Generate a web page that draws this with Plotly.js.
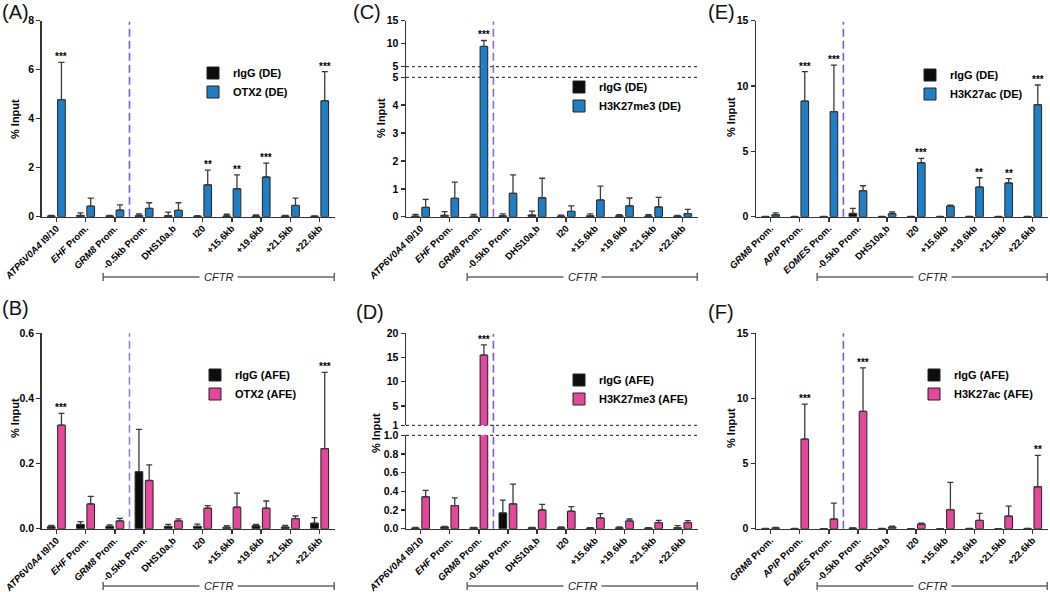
<!DOCTYPE html>
<html>
<head>
<meta charset="utf-8">
<script src="https://cdn.plot.ly/plotly-3.0.1.min.js"></script>
<style>html,body{margin:0;padding:0;background:#fff;}#chart{width:1050px;height:592px;}</style>
</head>
<body>
<div id="chart"></div>
<script>
// ---------------- DATA ----------------
const sitesAD = ['ATP6V0A4 I9/10','EHF Prom.','GRM8 Prom.','-0.5kb Prom.','DHS10a,b','I20','+15.6kb','+19.6kb','+21.5kb','+22.6kb'];
const ticksAD = ['<i>ATP6V0A4</i> I9/10','<i>EHF</i> Prom.','<i>GRM8</i> Prom.','-0.5kb Prom.','DHS10a,b','I20','+15.6kb','+19.6kb','+21.5kb','+22.6kb'];
const sitesEF = ['GRM8 Prom.','APIP Prom.','EOMES Prom.','-0.5kb Prom.','DHS10a,b','I20','+15.6kb','+19.6kb','+21.5kb','+22.6kb'];
const ticksEF = ['<i>GRM8</i> Prom.','<i>APIP</i> Prom.','<i>EOMES</i> Prom.','-0.5kb Prom.','DHS10a,b','I20','+15.6kb','+19.6kb','+21.5kb','+22.6kb'];

// (A) OTX2 in DE
const iggA    = [0.03, 0.05, 0.03, 0.04, 0.04, 0.02, 0.03, 0.03, 0.03, 0.02];
const iggAerr = [0.02, 0.11, 0.02, 0.07, 0.15, 0.02, 0.07, 0.04, 0.02, 0.01];
const otxA    = [4.78, 0.43, 0.27, 0.34, 0.26, 1.30, 1.14, 1.62, 0.46, 4.73];
const otxAerr = [1.52, 0.33, 0.21, 0.23, 0.31, 0.60, 0.57, 0.57, 0.30, 1.19];
const sigA    = ['***','','','','','**','**','***','','***'];

// (B) OTX2 in AFE
const iggB    = [0.006, 0.013, 0.007, 0.175, 0.007, 0.007, 0.004, 0.009, 0.005, 0.017];
const iggBerr = [0.004, 0.009, 0.005, 0.130, 0.006, 0.007, 0.005, 0.004, 0.005, 0.017];
const otxB    = [0.318, 0.076, 0.024, 0.148, 0.024, 0.063, 0.066, 0.063, 0.031, 0.246];
const otxBerr = [0.036, 0.023, 0.008, 0.048, 0.006, 0.008, 0.043, 0.022, 0.008, 0.234];
const sigB    = ['***','','','','','','','','','***'];

// (C) H3K27me3 in DE
const iggC    = [0.02, 0.05, 0.02, 0.03, 0.06, 0.02, 0.03, 0.03, 0.02, 0.02];
const iggCerr = [0.06, 0.13, 0.06, 0.07, 0.14, 0.04, 0.07, 0.04, 0.05, 0.03];
const me3C    = [0.335, 0.66, 9.4, 0.84, 0.68, 0.19, 0.60, 0.39, 0.35, 0.11];
const me3Cerr = [0.285, 0.58, 1.3, 0.66, 0.70, 0.20, 0.50, 0.28, 0.34, 0.15];
const sigC    = ['','','***','','','','','','',''];

// (D) H3K27me3 in AFE
const iggD    = [0.007, 0.018, 0.010, 0.169, 0.010, 0.010, 0.007, 0.010, 0.007, 0.010];
const iggDerr = [0.007, 0.007, 0.004, 0.137, 0.004, 0.008, 0.003, 0.008, 0.003, 0.022];
const me3D    = [0.342, 0.248, 15.5, 0.266, 0.200, 0.187, 0.115, 0.083, 0.065, 0.065];
const me3Derr = [0.068, 0.082, 2.1, 0.212, 0.060, 0.050, 0.047, 0.021, 0.025, 0.021];
const sigD    = ['','','***','','','','','','',''];

// (E) H3K27ac in DE
const iggE    = [0.01, 0.01, 0.01, 0.25, 0.01, 0.01, 0.01, 0.02, 0.01, 0.02];
const iggEerr = [0.01, 0.01, 0.01, 0.39, 0.01, 0.01, 0.01, 0.01, 0.01, 0.01];
const ac27E   = [0.15, 8.85, 8.04, 1.99, 0.23, 4.13, 0.82, 2.27, 2.58, 8.57];
const ac27Eerr= [0.15, 2.25, 3.56, 0.38, 0.13, 0.33, 0.07, 0.71, 0.33, 1.51];
const sigE    = ['','***','***','','','***','','**','**','***'];

// (F) H3K27ac in AFE
const iggF    = [0.01, 0.01, 0.00, 0.05, 0.01, 0.00, 0.00, 0.01, 0.00, 0.02];
const iggFerr = [0.01, 0.01, 0.01, 0.02, 0.01, 0.01, 0.01, 0.01, 0.01, 0.01];
const ac27F   = [0.06, 6.88, 0.74, 9.01, 0.13, 0.36, 1.46, 0.64, 0.97, 3.22];
const ac27Ferr= [0.04, 2.69, 1.23, 3.33, 0.07, 0.07, 2.10, 0.54, 0.77, 2.41];
const sigF    = ['','***','','***','','','','','','**'];

// ---------------- STYLE / LAYOUT ----------------
const W = 1050, H = 592;
const fx = p => p / W, fy = p => 1 - p / H;
const FONT = 'Liberation Sans, Arial, Helvetica, sans-serif';
const BLUE = '#1f7fc6', PINK = '#e4479b', BLACK = '#0d0d0d';
const AX = '#333';

const traces = [];
const annotations = [];
const shapes = [];
const layout = {
  width: W, height: H, margin: {l: 0, r: 0, t: 0, b: 0},
  paper_bgcolor: '#fff', plot_bgcolor: 'rgba(0,0,0,0)',
  barmode: 'group', bargap: 0.3, bargroupgap: 0.25,
  font: {family: FONT, color: '#111'},
  annotations, shapes
};

function xAxis(dom, anchor, sites, ticks) {
  return {
    domain: [fx(dom[0]), fx(dom[1])], anchor: anchor, type: 'category',
    categoryorder: 'array', categoryarray: sites,
    tickmode: 'array', tickvals: sites, ticktext: ticks,
    tickangle: -45, ticks: 'outside', ticklen: 4, tickwidth: 1.5, tickcolor: AX,
    ticklabelstandoff: -3,
    showline: true, linecolor: AX, linewidth: 1.5, showgrid: false, zeroline: false,
    tickfont: {family: FONT, size: 9.5, color: '#000', weight: 'bold'}, fixedrange: true
  };
}
function yAxis(dom, anchor, range, tickvals, fmt) {
  return {
    domain: [fy(dom[0]), fy(dom[1])], anchor: anchor, range: range,
    tickmode: 'array', tickvals: tickvals, tickformat: fmt || '',
    ticks: 'outside', ticklen: 4, tickwidth: 1.5, tickcolor: AX,
    showline: true, linecolor: AX, linewidth: 1.5, showgrid: false, zeroline: false,
    tickfont: {family: FONT, size: 10.5, color: '#000', weight: 'bold'}, fixedrange: true
  };
}

function addBars(xa, yas, sites, igg, iggErr, val, valErr, color, names, legendId) {
  yas.forEach((ya, k) => {
    [[igg, iggErr, BLACK, names[0]], [val, valErr, color, names[1]]].forEach(([v, e, c, n]) => {
      traces.push({
        type: 'bar', x: sites, y: v, name: n, xaxis: xa, yaxis: ya,
        legend: legendId, showlegend: k === 0,
        marker: {color: c, line: {color: '#222', width: 1}},
        error_y: {type: 'data', symmetric: false, array: e, arrayminus: e.map(() => 0),
                  color: '#3a3a3a', thickness: 1.3, width: 3},
        hoverinfo: 'skip'
      });
    });
  });
}

function addStars(xa, ya, sites, val, err, sig) {
  sig.forEach((s, i) => {
    if (!s) return;
    annotations.push({
      xref: xa, yref: ya, x: sites[i], y: val[i] + err[i], text: s, showarrow: false,
      xanchor: 'center', yanchor: 'bottom', xshift: 5, yshift: -2,
      font: {family: FONT, size: 10, color: '#000', weight: 'bold'}
    });
  });
}

function addLegend(id, textLeft, firstCenter) {
  layout[id] = {
    x: fx(textLeft - 40), y: fy(firstCenter - 15.5), xanchor: 'left', yanchor: 'top',
    bgcolor: 'rgba(0,0,0,0)', font: {family: FONT, size: 11, color: '#000', weight: 'bold'},
    itemclick: false, itemdoubleclick: false, traceorder: 'normal'
  };
}

function addDivider(xa, yref, y0, y1, color) {
  shapes.push({type: 'line', xref: xa, yref: yref, x0: 2.5, x1: 2.5, y0: y0, y1: y1,
    line: {color: color, width: 1.6, dash: '8px,4px'}, layer: 'above'});
}

function addBracket(xa, yPx) {
  const y = fy(yPx), c = '#666';
  shapes.push({type: 'line', xref: xa, yref: 'paper', x0: 1.6, x1: 9.5, y0: y, y1: y, line: {color: c, width: 1.5}});
  shapes.push({type: 'line', xref: xa, yref: 'paper', x0: 1.6, x1: 1.6, y0: fy(yPx - 4), y1: fy(yPx + 4), line: {color: c, width: 1.5}});
  shapes.push({type: 'line', xref: xa, yref: 'paper', x0: 9.5, x1: 9.5, y0: fy(yPx - 4), y1: fy(yPx + 4), line: {color: c, width: 1.5}});
  annotations.push({xref: xa, yref: 'paper', x: 5.55, y: y, text: '<i>CFTR</i>', showarrow: false,
    bgcolor: '#fff', borderpad: 4, xanchor: 'center', yanchor: 'middle',
    font: {family: FONT, size: 11, color: '#222'}});
}

function addBreak(xa, yPxs) {
  yPxs.forEach(p => shapes.push({type: 'line', xref: xa + ' domain', yref: 'paper', x0: 0, x1: 1,
    y0: fy(p), y1: fy(p), line: {color: '#444', width: 1.2, dash: 'dot'}, layer: 'below'}));
}

function panelLabel(txt, xPx, yPx) {
  annotations.push({xref: 'paper', yref: 'paper', x: fx(xPx), y: fy(yPx), text: txt, showarrow: false,
    xanchor: 'left', yanchor: 'middle', font: {family: FONT, size: 20, color: '#111'}});
}
function yTitle(xPx, yPx) {
  annotations.push({xref: 'paper', yref: 'paper', x: fx(xPx), y: fy(yPx), text: '% Input', showarrow: false,
    textangle: -90, xanchor: 'center', yanchor: 'middle',
    font: {family: FONT, size: 11, color: '#000', weight: 'bold'}});
}

const XA = [41.7, 335], XC = [406, 698], XE = [756, 1048];
const TOP = [216.7, 20.7], BOT = [528.7, 333.3];

// Panel A
layout.xaxis = xAxis(XA, 'y', sitesAD, ticksAD);
layout.yaxis = yAxis(TOP, 'x', [0, 8], [0, 2, 4, 6, 8]);
addBars('x', ['y'], sitesAD, iggA, iggAerr, otxA, otxAerr, BLUE, ['rIgG (DE)', 'OTX2 (DE)'], 'legend');
addStars('x', 'y', sitesAD, otxA, otxAerr, sigA);
addLegend('legend', 233, 74);
addDivider('x', 'y domain', 0, 0.995, '#7c5cc9');
addBracket('x', 277);
panelLabel('(A)', 0, 12); yTitle(15, 119);

// Panel B
layout.xaxis2 = xAxis(XA, 'y2', sitesAD, ticksAD);
layout.yaxis2 = yAxis(BOT, 'x2', [0, 0.6], [0, 0.2, 0.4, 0.6], '.1f');
addBars('x2', ['y2'], sitesAD, iggB, iggBerr, otxB, otxBerr, PINK, ['rIgG (AFE)', 'OTX2 (AFE)'], 'legend2');
addStars('x2', 'y2', sitesAD, otxB, otxBerr, sigB);
addLegend('legend2', 235, 376);
addDivider('x2', 'y2 domain', 0, 1, '#9a7fd6');
addBracket('x2', 586);
panelLabel('(B)', 0, 308); yTitle(15, 418);

// Panel C (broken axis)
layout.xaxis3 = xAxis(XC, 'y3', sitesAD, ticksAD);
layout.yaxis3 = yAxis([216.7, 66.7], 'x3', [0, 5 * 150 / 139.4], [0, 1, 2, 3, 4, 5]);
layout.yaxis4 = yAxis([66.7, 20.7], 'x3', [5, 15], [5, 10, 15]);
addBars('x3', ['y3', 'y4'], sitesAD, iggC, iggCerr, me3C, me3Cerr, BLUE, ['rIgG (DE)', 'H3K27me3 (DE)'], 'legend3');
addStars('x3', 'y4', sitesAD, me3C, me3Cerr, sigC);
addLegend('legend3', 599, 88);
addBreak('x3', [66.7, 77.3]);
addDivider('x3', 'paper', fy(216.7), fy(21.5), '#8a6bd0');
addBracket('x3', 277);
panelLabel('(C)', 351, 12); yTitle(381, 118);

// Panel D (broken axis)
layout.xaxis4 = xAxis(XC, 'y5', sitesAD, ticksAD);
layout.yaxis5 = yAxis([528.7, 435.3], 'x4', [0, 1], [0, 0.2, 0.4, 0.6, 0.8, 1.0], '.1f');
layout.yaxis6 = yAxis([425.3, 333.3], 'x4', [1, 20], [1, 5, 10, 15, 20]);
addBars('x4', ['y5', 'y6'], sitesAD, iggD, iggDerr, me3D, me3Derr, PINK, ['rIgG (AFE)', 'H3K27me3 (AFE)'], 'legend4');
addStars('x4', 'y6', sitesAD, me3D, me3Derr, sigD);
addLegend('legend4', 599, 381);
addBreak('x4', [425.3, 435.3]);
addDivider('x4', 'paper', fy(528.7), fy(334), '#7c5cc9');
addBracket('x4', 586);
panelLabel('(D)', 354, 312); yTitle(376, 433);

// Panel E
layout.xaxis5 = xAxis(XE, 'y7', sitesEF, ticksEF);
layout.yaxis7 = yAxis(TOP, 'x5', [0, 15], [0, 5, 10, 15]);
addBars('x5', ['y7'], sitesEF, iggE, iggEerr, ac27E, ac27Eerr, BLUE, ['rIgG (DE)', 'H3K27ac (DE)'], 'legend5');
addStars('x5', 'y7', sitesEF, ac27E, ac27Eerr, sigE);
addLegend('legend5', 950, 76);
addDivider('x5', 'y7 domain', 0, 0.995, '#7c5cc9');
addBracket('x5', 277);
panelLabel('(E)', 706, 12); yTitle(731, 117);

// Panel F
layout.xaxis6 = xAxis(XE, 'y8', sitesEF, ticksEF);
layout.yaxis8 = yAxis(BOT, 'x6', [0, 15], [0, 5, 10, 15]);
addBars('x6', ['y8'], sitesEF, iggF, iggFerr, ac27F, ac27Ferr, PINK, ['rIgG (AFE)', 'H3K27ac (AFE)'], 'legend6');
addStars('x6', 'y8', sitesEF, ac27F, ac27Ferr, sigF);
addLegend('legend6', 954, 376);
addDivider('x6', 'y8 domain', 0, 1, '#7c5cc9');
addBracket('x6', 586);
panelLabel('(F)', 706, 312); yTitle(731, 428);

Plotly.newPlot('chart', traces, layout, {displayModeBar: false, staticPlot: true});
</script>
</body>
</html>
